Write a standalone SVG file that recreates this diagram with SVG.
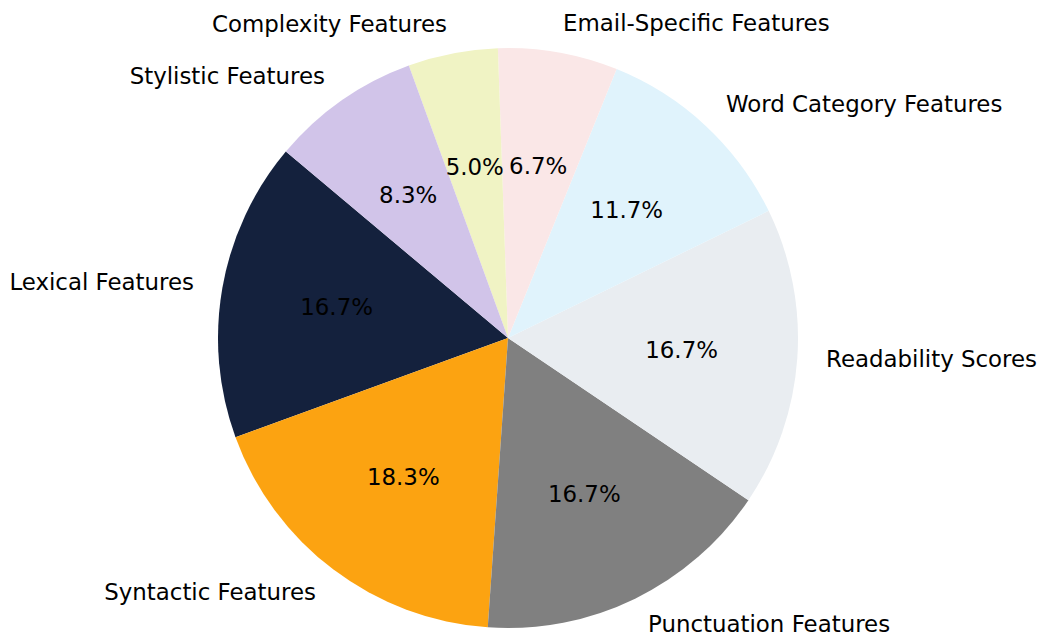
<svg xmlns="http://www.w3.org/2000/svg" width="1043" height="636" viewBox="0 0 1043 636">
  <style>
    text { font-family: "DejaVu Sans", "Liberation Sans", sans-serif; font-size: 22.9px; fill: #000; }
    .end { text-anchor: end; }
    .mid { text-anchor: middle; }
  </style>
  <rect width="1043" height="636" fill="#ffffff"/>
  <!-- pie centred at (508,338), radius 290, start angle 140°, counter-clockwise -->
  <g id="wedges">
    <g id="lexical"><path d="M508,338 L285.85,151.59 A290,290 0 0 0 235.49,437.19 Z" fill="#14213d"/></g>
    <g id="syntactic"><path d="M508,338 L235.49,437.19 A290,290 0 0 0 487.77,627.29 Z" fill="#fca311"/></g>
    <g id="punctuation"><path d="M508,338 L487.77,627.29 A290,290 0 0 0 748.42,500.17 Z" fill="#808080"/></g>
    <g id="readability"><path d="M508,338 L748.42,500.17 A290,290 0 0 0 768.65,210.87 Z" fill="#e9edf1"/></g>
    <g id="wordcategory"><path d="M508,338 L768.65,210.87 A290,290 0 0 0 616.64,69.12 Z" fill="#e0f3fc"/></g>
    <g id="email"><path d="M508,338 L616.64,69.12 A290,290 0 0 0 497.88,48.18 Z" fill="#fae7e7"/></g>
    <g id="complexity"><path d="M508,338 L497.88,48.18 A290,290 0 0 0 408.81,65.49 Z" fill="#f0f3c4"/></g>
    <g id="stylistic"><path d="M508,338 L408.81,65.49 A290,290 0 0 0 285.85,151.59 Z" fill="#d1c4e9"/></g>
  </g>
  <g id="labels">
    <text class="end" x="194" y="290">Lexical Features</text>
    <text class="end" x="316" y="600">Syntactic Features</text>
    <text x="648" y="632">Punctuation Features</text>
    <text x="826" y="367">Readability Scores</text>
    <text x="726" y="112">Word Category Features</text>
    <text x="563" y="31">Email-Specific Features</text>
    <text class="end" x="447" y="32">Complexity Features</text>
    <text class="end" x="325" y="84">Stylistic Features</text>
  </g>
  <g id="percentages">
    <text class="mid" x="336.6" y="315">16.7%</text>
    <text class="mid" x="403.3" y="484.5">18.3%</text>
    <text class="mid" x="584.3" y="502">16.7%</text>
    <text class="mid" x="681.6" y="357.5">16.7%</text>
    <text class="mid" x="626.7" y="218">11.7%</text>
    <text class="mid" x="538.2" y="174">6.7%</text>
    <text class="mid" x="474.8" y="174.5">5.0%</text>
    <text class="mid" x="408.2" y="203">8.3%</text>
  </g>
</svg>
